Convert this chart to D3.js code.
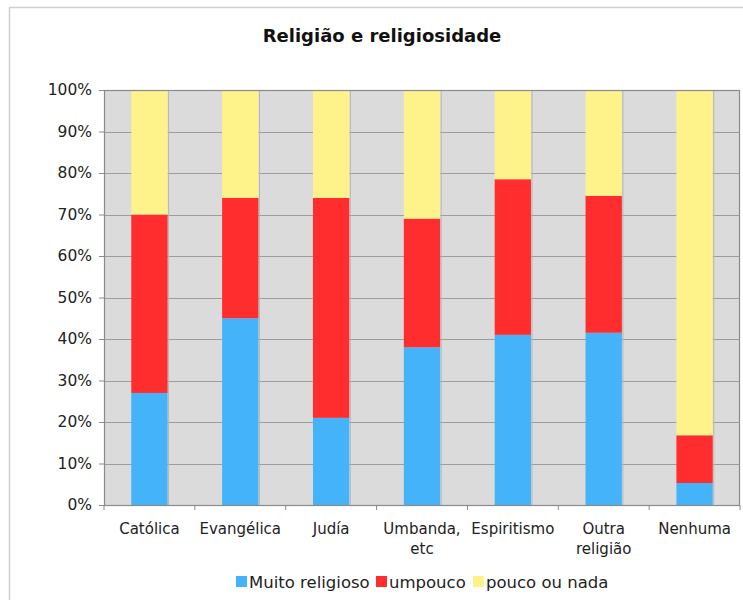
<!DOCTYPE html>
<html>
<head>
<meta charset="utf-8">
<script src="https://cdn.jsdelivr.net/npm/d3@7"></script>
<style>
  html, body { margin: 0; padding: 0; background: #fff; }
  svg { display: block; }
</style>
</head>
<body>
<svg id="chart" width="743" height="600"></svg>
<script>
const title = "Religião e religiosidade";
const categories = ["Católica", "Evangélica", "Judía", "Umbanda, etc", "Espiritismo", "Outra religião", "Nenhuma"];
const categoryLines = [["Católica"], ["Evangélica"], ["Judía"], ["Umbanda,", "etc"], ["Espiritismo"], ["Outra", "religião"], ["Nenhuma"]];
const seriesNames = ["Muito religioso", "umpouco", "pouco ou nada"];
const muitoReligioso = [27, 45, 21, 38, 41, 41.5, 5.3];
const umPouco = [43, 29, 53, 31, 37.5, 33, 11.5];
const poucoOuNada = [30, 26, 26, 31, 21.5, 25.5, 83.2];
const yTicks = [0, 10, 20, 30, 40, 50, 60, 70, 80, 90, 100];
const colors = ["#44b3fa", "#ff2d2d", "#fdf38a"];

(function () {
const svg = d3.select("#chart");
const font = "'DejaVu Sans', Verdana, sans-serif";
const pLeft = 104, pRight = 740, pTop = 90, pBottom = 505;

// outer frame
svg.append("path").attr("d", "M9.5,600 V7.5 H743").attr("fill", "none").attr("stroke", "#cfcfcf").attr("stroke-width", 1.5);

svg.append("text").attr("x", 382).attr("y", 42).attr("text-anchor", "middle")
  .attr("font-family", font).attr("font-weight", "bold").attr("font-size", 18)
  .attr("fill", "#111").text(title);

const x = d3.scaleBand().domain(categories).range([pLeft, pRight]).paddingInner(0.6).paddingOuter(0.3);
const y = d3.scaleLinear().domain([0, 100]).range([pBottom, pTop]);

// plot background
svg.append("rect").attr("x", pLeft).attr("y", pTop).attr("width", pRight - pLeft).attr("height", pBottom - pTop)
  .attr("fill", "#dbdbdc");

// gridlines
svg.append("g").selectAll("line").data(yTicks).join("line")
  .attr("x1", pLeft).attr("x2", pRight)
  .attr("y1", d => Math.round(y(d)) + 0.5).attr("y2", d => Math.round(y(d)) + 0.5)
  .attr("stroke", "#9d9d9f").attr("stroke-width", 1.2);

// faint vertical stripes at bar right edges
svg.append("g").selectAll("line").data(categories).join("line")
  .attr("x1", d => x(d) + x.bandwidth() + 1).attr("x2", d => x(d) + x.bandwidth() + 1)
  .attr("y1", pTop).attr("y2", pBottom)
  .attr("stroke", "#b6b6b8").attr("stroke-width", 1);

// stacked data
const table = categories.map((c, i) => ({ cat: c, s0: muitoReligioso[i], s1: umPouco[i], s2: poucoOuNada[i] }));
const stack = d3.stack().keys(["s0", "s1", "s2"]);
const layers = stack(table);

svg.append("g").selectAll("g").data(layers).join("g")
  .attr("fill", (d, i) => colors[i])
  .selectAll("rect").data(d => d).join("rect")
  .attr("x", d => x(d.data.cat))
  .attr("width", x.bandwidth())
  .attr("y", d => y(Math.min(d[1], 100)))
  .attr("height", d => y(d[0]) - y(Math.min(d[1], 100)));

// plot border
svg.append("rect").attr("x", pLeft + 0.5).attr("y", pTop + 0.5).attr("width", pRight - pLeft - 1).attr("height", pBottom - pTop)
  .attr("fill", "none").attr("stroke", "#8a8a8c").attr("stroke-width", 1.2);

// y axis
const yAxis = svg.append("g").attr("transform", `translate(${pLeft},0)`)
  .call(d3.axisLeft(y).tickValues(yTicks).tickFormat(d => d + "%").tickSize(5).tickPadding(7));
yAxis.select(".domain").remove();
yAxis.selectAll("line").attr("stroke", "#8a8a8c");
yAxis.selectAll("text").attr("font-family", font).attr("font-size", 15.5).attr("fill", "#222");

// x axis ticks at band boundaries
const boundaries = d3.range(categories.length + 1).map(i => pLeft + i * x.step());
svg.append("g").selectAll("line").data(boundaries).join("line")
  .attr("x1", d => d).attr("x2", d => d).attr("y1", pBottom).attr("y2", pBottom + 5)
  .attr("stroke", "#8a8a8c");

// x labels
const xl = svg.append("g").selectAll("text").data(categories).join("text")
  .attr("x", d => x(d) + x.bandwidth() / 2)
  .attr("y", 534)
  .attr("text-anchor", "middle")
  .attr("font-family", font).attr("font-size", 15).attr("fill", "#222");
xl.each(function (d, i) {
  d3.select(this).selectAll("tspan").data(categoryLines[i]).join("tspan")
    .attr("x", x(d) + x.bandwidth() / 2)
    .attr("dy", (t, j) => j === 0 ? 0 : 20)
    .text(t => t);
});

// legend
const legendItems = [
  { name: seriesNames[0], color: colors[0], sx: 236 },
  { name: seriesNames[1], color: colors[1], sx: 376 },
  { name: seriesNames[2], color: colors[2], sx: 473 }
];
const lg = svg.append("g");
legendItems.forEach(it => {
  lg.append("rect").attr("x", it.sx).attr("y", 576).attr("width", 11).attr("height", 11).attr("fill", it.color);
  lg.append("text").attr("x", it.sx + 13).attr("y", 588)
    .attr("font-family", font).attr("font-size", 16.5).attr("fill", "#222").text(it.name);
});
})();
</script>
</body>
</html>
